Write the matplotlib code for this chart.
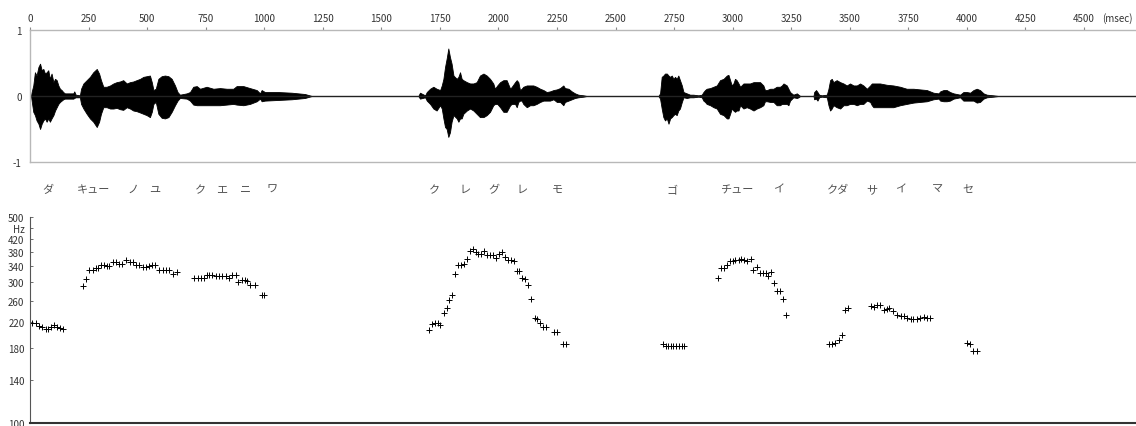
import matplotlib
matplotlib.use('Agg')
from matplotlib import pyplot as plt
import matplotlib.transforms as mtransforms

plt.rcParams['font.family'] = ['Noto Sans CJK JP', 'DejaVu Sans']

# waveform envelope (time in msec, upper / lower amplitude)
wave_ms = [4, 7, 14, 21, 28, 36, 43, 50, 57, 64, 71, 78, 85, 92, 100, 107, 114, 121, 128, 135,
           142, 149, 185, 189, 195, 213, 218, 228, 242, 256, 270, 285, 295, 303, 313, 327, 342,
           356, 370, 384, 398, 413, 427, 441, 455, 470, 484, 498, 512, 520, 527, 537, 548, 562,
           576, 591, 605, 619, 630, 640, 669, 683, 697, 712, 726, 754, 783, 811, 840, 868, 882,
           911, 939, 968, 982, 989, 1003, 1060, 1117, 1174, 1203,
           1658, 1665, 1687, 1694, 1708, 1722, 1736, 1751, 1758, 1765, 1772, 1779, 1786, 1793,
           1800, 1808, 1822, 1829, 1836, 1843, 1850, 1865, 1879, 1893, 1907, 1921, 1936, 1950,
           1964, 1978, 1985, 1995, 2007, 2021, 2035, 2050, 2057, 2071, 2078, 2085, 2092, 2099,
           2106, 2121, 2135, 2149, 2163, 2178, 2192, 2206, 2220, 2235, 2249, 2263, 2277, 2284,
           2299, 2313, 2327, 2341, 2363, 2377,
           2683, 2690, 2697, 2704, 2711, 2719, 2726, 2733, 2740, 2747, 2754, 2761, 2768, 2775,
           2783, 2790, 2804, 2818, 2832, 2854, 2868, 2875, 2882, 2889, 2904, 2918, 2932, 2946,
           2961, 2975, 2982, 2989, 2996, 3003, 3010, 3017, 3025, 3032, 3046, 3060, 3074, 3089,
           3103, 3117, 3131, 3138, 3146, 3160, 3174, 3188, 3202, 3210, 3217, 3231, 3238, 3245,
           3259, 3274, 3281, 3288, 3345, 3348, 3356, 3362, 3369, 3380, 3402, 3409, 3416, 3423,
           3430, 3444, 3459, 3473, 3487, 3501, 3516, 3530, 3544, 3558, 3573, 3587, 3594, 3601,
           3629, 3658, 3686, 3715, 3743, 3772, 3800, 3829, 3857, 3879, 3886, 3900, 3914, 3928,
           3943, 3971, 3985, 4000, 4014, 4028, 4042, 4056, 4071, 4085, 4113, 4135]
wave_hi = [0, .06, .16, .36, .31, .44, .49, .39, .41, .34, .36, .39, .26, .34, .21, .26, .24, .16, .11, .09,
           .06, .04, .04, .07, .02, .01, .11, .19, .24, .29, .36, .41, .34, .24, .14, .14, .16,
           .19, .21, .22, .24, .19, .21, .22, .24, .26, .29, .30, .31, .21, .09, .11, .26, .30,
           .31, .30, .26, .16, .06, .02, .04, .06, .14, .15, .11, .14, .11, .12, .11, .11, .15,
           .15, .12, .09, .04, .09, .06, .06, .05, .03, 0,
           0, .05, .01, .06, .11, .14, .11, .09, .16, .26, .44, .57, .72, .59,
           .49, .31, .26, .29, .36, .26, .24, .21, .19, .19, .21, .31, .34, .31,
           .26, .19, .11, .16, .21, .24, .24, .11, .14, .21, .24, .21, .09, .11,
           .14, .16, .16, .16, .14, .11, .09, .06, .07, .09, .10, .12, .16, .12,
           .11, .07, .04, .02, .01, 0,
           0, .04, .29, .31, .34, .34, .31, .29, .31, .26, .29, .26, .31, .24,
           .16, .06, .04, .02, .02, .01, .02, .06, .09, .11, .12, .14, .16, .24,
           .26, .31, .32, .24, .16, .19, .26, .24, .19, .14, .19, .19, .19, .21,
           .21, .21, .16, .09, .09, .11, .11, .14, .14, .16, .19, .16, .11, .06,
           .02, .04, .02, 0, 0, .06, .09, .06, .02, .01, .02, .11, .24, .26,
           .21, .24, .21, .19, .16, .19, .16, .16, .19, .16, .11, .16, .19, .19,
           .19, .17, .16, .14, .11, .11, .10, .09, .05, .04, .07, .09, .09, .06,
           .04, .02, .06, .06, .05, .09, .11, .09, .04, .02, .01, 0]
wave_lo = [0, -.07, -.24, -.29, -.37, -.42, -.50, -.42, -.37, -.34, -.39, -.34, -.39, -.34, -.29, -.22, -.17, -.12, -.09, -.07,
           -.05, -.04, -.04, -.03, -.02, -.02, -.12, -.19, -.27, -.34, -.39, -.47, -.39, -.27, -.17, -.17, -.19,
           -.19, -.18, -.20, -.21, -.17, -.19, -.22, -.23, -.25, -.27, -.29, -.32, -.24, -.12, -.09, -.27, -.33,
           -.34, -.32, -.24, -.14, -.07, -.03, -.04, -.07, -.13, -.14, -.14, -.14, -.14, -.14, -.13, -.12, -.13,
           -.14, -.12, -.08, -.04, -.08, -.07, -.06, -.05, -.03, 0,
           0, -.04, -.02, -.07, -.12, -.19, -.22, -.14, -.19, -.34, -.47, -.50, -.62, -.55,
           -.39, -.29, -.34, -.39, -.34, -.34, -.27, -.22, -.19, -.22, -.27, -.32, -.32, -.29,
           -.24, -.14, -.12, -.12, -.17, -.24, -.24, -.14, -.12, -.12, -.17, -.09, -.07, -.07,
           -.12, -.17, -.14, -.14, -.12, -.09, -.07, -.07, -.07, -.05, -.09, -.09, -.14, -.09,
           -.07, -.05, -.03, -.02, -.01, 0,
           0, -.04, -.19, -.32, -.37, -.34, -.42, -.34, -.32, -.29, -.27, -.29, -.22, -.19,
           -.09, -.02, -.03, -.02, -.02, -.01, -.02, -.07, -.09, -.12, -.14, -.17, -.19, -.27,
           -.29, -.34, -.34, -.27, -.19, -.22, -.24, -.22, -.22, -.14, -.19, -.17, -.19, -.22,
           -.19, -.17, -.14, -.08, -.08, -.09, -.09, -.14, -.14, -.12, -.12, -.12, -.14, -.07,
           -.02, -.03, -.02, 0, 0, -.05, -.04, -.07, -.02, -.01, -.02, -.14, -.22, -.19,
           -.14, -.17, -.19, -.14, -.14, -.12, -.12, -.14, -.12, -.12, -.07, -.09, -.14, -.17,
           -.17, -.17, -.17, -.14, -.12, -.10, -.09, -.08, -.05, -.04, -.07, -.08, -.08, -.07,
           -.04, -.02, -.07, -.07, -.07, -.07, -.10, -.09, -.04, -.02, -.01, 0]

# fundamental frequency track
f0_ms = [10, 24, 38, 50, 67, 76, 90, 104, 117, 129, 142,
         225, 239, 253, 268, 281, 292, 303, 315, 329, 337, 353, 367, 381, 392, 411, 427, 441,
         453, 465, 481, 494, 508, 520, 534, 552, 567, 581, 595, 612, 628,
         702, 716, 730, 742, 755, 766, 778, 793, 807, 821, 836, 850, 864, 878, 889, 904, 918,
         928, 941, 961, 989, 1000,
         1704, 1715, 1729, 1741, 1752, 1766, 1779, 1789, 1802, 1816, 1826, 1840, 1854, 1865,
         1877, 1890, 1903, 1914, 1927, 1939, 1952, 1964, 1976, 1990, 2004, 2015, 2028, 2042,
         2054, 2067, 2079, 2089, 2102, 2115, 2128, 2141, 2155, 2165, 2178, 2192, 2203, 2237,
         2252, 2277, 2289,
         2704, 2714, 2726, 2737, 2747, 2758, 2770, 2783, 2791,
         2939, 2951, 2963, 2976, 2989, 3000, 3012, 3025, 3037, 3050, 3063, 3079, 3088, 3103,
         3117, 3129, 3141, 3152, 3164, 3178, 3191, 3203, 3217, 3229,
         3413, 3423, 3437, 3453, 3466, 3480, 3494,
         3590, 3604, 3615, 3629, 3644, 3658, 3669, 3686, 3703, 3718, 3732, 3746, 3761, 3772,
         3787, 3801, 3815, 3829, 3843,
         4002, 4014, 4028, 4042]
f0_hz = [218, 218, 214, 212, 208, 208, 211, 215, 211, 210, 208,
         292, 307, 331, 331, 336, 336, 344, 344, 340, 340, 351, 351, 346, 346, 358, 351, 351,
         344, 344, 338, 338, 342, 344, 344, 331, 331, 331, 331, 320, 325,
         311, 311, 311, 311, 317, 317, 317, 315, 315, 315, 315, 310, 317, 317, 301, 306, 306,
         303, 295, 295, 272, 272,
         207, 216, 218, 218, 215, 236, 245, 261, 271, 320, 344, 344, 346, 359,
         382, 389, 381, 375, 375, 382, 372, 372, 372, 364, 375, 380, 366, 357,
         357, 355, 329, 329, 311, 307, 294, 264, 227, 225, 219, 212, 212, 203,
         203, 186, 186,
         186, 182, 182, 182, 182, 182, 182, 182, 182,
         310, 335, 335, 344, 354, 354, 358, 358, 359, 358, 354, 360, 331, 338,
         323, 323, 323, 315, 325, 299, 280, 280, 264, 233,
         186, 185, 187, 192, 199, 242, 246,
         250, 247, 252, 252, 242, 244, 246, 239, 233, 231, 231, 228, 225, 225,
         225, 227, 229, 228, 227,
         187, 186, 175, 175]

# mora labels and their time positions
kana = ['ダ', 'キュー', 'ノ', 'ユ', 'ク', 'エ', 'ニ', 'ワ',
        'ク', 'レ', 'グ', 'レ', 'モ',
        'ゴ', 'チュー', 'イ', 'クダ', 'サ', 'イ', 'マ', 'セ']
kana_ms = [77, 271, 440, 534, 726, 820, 918, 1033,
           1727, 1857, 1981, 2101, 2252,
           2741, 3017, 3194, 3448, 3596, 3717, 3873, 4006]

time_ticks = [0, 250, 500, 750, 1000, 1250, 1500, 1750, 2000, 2250,
              2500, 2750, 3000, 3250, 3500, 3750, 4000, 4250, 4500]
hz_ticks = [100, 140, 180, 220, 260, 300, 340, 380, 420, 460, 500]
hz_labels = ['100', '140', '180', '220', '260', '300', '340', '380', '420', 'Hz', '500']

XMAX = 4722
txt = '#333333'

fig = plt.figure(figsize=(11.36, 4.27), dpi=100)

# --- waveform ---
ax1 = fig.add_axes([30 / 1136, 1 - 163 / 427, 1106 / 1136, 132 / 427])
ax1.fill_between(wave_ms, wave_lo, wave_hi, color='black', lw=0.6, edgecolor='black')
ax1.axhline(0, color='#222222', lw=1.0)
ax1.set_xlim(0, XMAX)
ax1.set_ylim(-1, 1)
for s in ['top', 'bottom', 'left']:
    ax1.spines[s].set_color('#b8b8b8')
    ax1.spines[s].set_linewidth(1.0)
ax1.spines['right'].set_visible(False)
ax1.set_xticks(time_ticks)
ax1.set_xticklabels([str(t) for t in time_ticks])
ax1.tick_params(axis='x', bottom=False, labelbottom=False, top=True, labeltop=True,
                direction='out', length=2, width=0.8, color='#888888', pad=3,
                labelsize=7, labelcolor=txt)
ax1.set_yticks([-1, 0, 1])
ax1.set_yticklabels(['-1', '0', '1'])
ax1.tick_params(axis='y', length=0, pad=6, labelsize=7, labelcolor=txt)
ax1.text(4641, 1 - 19 / 427, '(msec)', transform=mtransforms.blended_transform_factory(
    ax1.transData, fig.transFigure), ha='center', va='center', fontsize=7, color=txt)

# mora labels between panels
trans = mtransforms.blended_transform_factory(ax1.transData, fig.transFigure)
for k, t in zip(kana, kana_ms):
    ax1.text(t, 1 - 190 / 427, k, transform=trans, ha='center', va='center',
             fontsize=8, color='#505050', clip_on=False)

# --- pitch track ---
ax2 = fig.add_axes([30 / 1136, 1 - 424 / 427, 1106 / 1136, 206 / 427])
ax2.plot(f0_ms, f0_hz, linestyle='none', marker='+', markersize=4,
         markeredgewidth=0.7, color='black')
ax2.set_yscale('log')
ax2.set_xlim(0, XMAX)
ax2.set_ylim(100, 500)
ax2.set_yticks(hz_ticks)
ax2.set_yticklabels(hz_labels)
ax2.yaxis.set_minor_locator(matplotlib.ticker.NullLocator())
ax2.tick_params(axis='y', direction='in', length=2, width=0.6, color='#555555',
                pad=4, labelsize=7, labelcolor=txt)
ax2.set_xticks([])
ax2.spines['top'].set_visible(False)
ax2.spines['right'].set_visible(False)
ax2.spines['left'].set_color('#555555')
ax2.spines['left'].set_linewidth(0.8)
ax2.spines['bottom'].set_color('#333333')
ax2.spines['bottom'].set_linewidth(1.5)

fig.savefig('out.png', dpi=100)
